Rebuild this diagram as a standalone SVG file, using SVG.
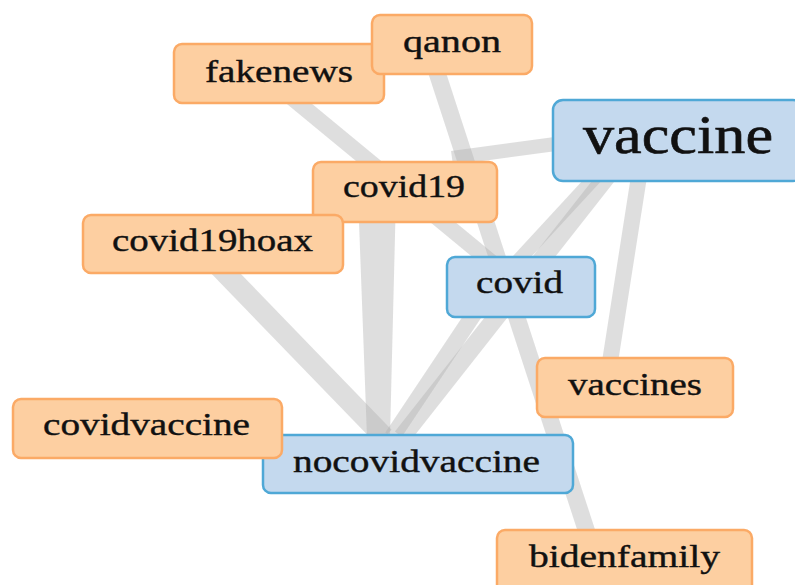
<svg xmlns="http://www.w3.org/2000/svg" width="795" height="585" viewBox="0 0 795 585">
<style>
.e{stroke:#b0b0b0;stroke-opacity:0.42;fill:none;stroke-linecap:butt}
.ef{fill:#b0b0b0;fill-opacity:0.42;stroke:none}
.o{fill:#fdcfa1;stroke:#fbaa66;stroke-width:2.5}
.b{fill:#c4d9ee;stroke:#4fa8d6;stroke-width:2.5}
text{font-family:"Liberation Serif","Times New Roman",serif;font-size:32px;fill:#111;stroke:#111;stroke-width:0.4}
.big{font-size:54px;stroke-width:0.6}
</style>
<rect width="795" height="585" fill="#ffffff"/>
<g id="connectors">
<line class="e" x1="262" y1="73" x2="525" y2="290" stroke-width="16"/>
<line class="e" x1="428" y1="45" x2="596" y2="560" stroke-width="17"/>
<line class="e" x1="452" y1="158" x2="600" y2="138" stroke-width="14"/>
<line class="e" x1="205" y1="252" x2="384" y2="437" stroke-width="21"/>
<polygon class="ef" points="358,195 396,195 390,437 367,437"/>
<line class="e" x1="612" y1="170" x2="402" y2="437" stroke-width="18"/>
<line class="e" x1="490" y1="290" x2="392" y2="437" stroke-width="16"/>
<line class="e" x1="600" y1="172" x2="505" y2="275" stroke-width="14"/>
<line class="e" x1="640" y1="170" x2="610" y2="362" stroke-width="16"/>
</g>
<g id="node-fakenews"><rect class="o" x="174" y="44" width="210" height="59" rx="8"/><text x="205" y="82" textLength="148" lengthAdjust="spacingAndGlyphs">fakenews</text></g>
<g id="node-qanon"><rect class="o" x="372" y="15" width="160" height="59" rx="8"/><text x="403" y="52" textLength="98" lengthAdjust="spacingAndGlyphs">qanon</text></g>
<g id="node-vaccine"><rect class="b" x="553" y="100" width="250" height="81" rx="10"/><text class="big" x="583" y="153" textLength="190" lengthAdjust="spacingAndGlyphs">vaccine</text></g>
<g id="node-covid19"><rect class="o" x="313" y="162" width="184" height="60" rx="8"/><text x="343" y="197" textLength="122" lengthAdjust="spacingAndGlyphs">covid19</text></g>
<g id="node-covid19hoax"><rect class="o" x="83" y="215" width="260" height="58" rx="8"/><text x="112" y="251" textLength="201" lengthAdjust="spacingAndGlyphs">covid19hoax</text></g>
<g id="node-covid"><rect class="b" x="447" y="257" width="148" height="60" rx="8"/><text x="476" y="293" textLength="87" lengthAdjust="spacingAndGlyphs">covid</text></g>
<g id="node-vaccines"><rect class="o" x="537" y="358" width="196" height="59" rx="8"/><text x="568" y="395" textLength="134" lengthAdjust="spacingAndGlyphs">vaccines</text></g>
<g id="node-nocovidvaccine"><rect class="b" x="263" y="435" width="310" height="58" rx="8"/><text x="293" y="472" textLength="247" lengthAdjust="spacingAndGlyphs">nocovidvaccine</text></g>
<g id="node-covidvaccine"><rect class="o" x="13" y="399" width="269" height="59" rx="8"/><text x="43" y="435" textLength="207" lengthAdjust="spacingAndGlyphs">covidvaccine</text></g>
<g id="node-bidenfamily"><rect class="o" x="497" y="530" width="255" height="75" rx="8"/><text x="529" y="567" textLength="191" lengthAdjust="spacingAndGlyphs">bidenfamily</text></g>
</svg>
